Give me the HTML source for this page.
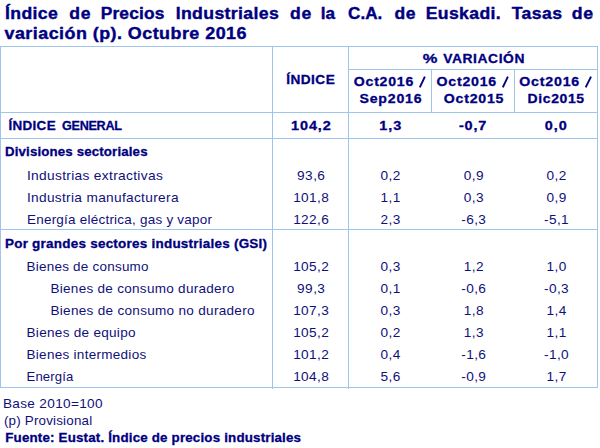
<!DOCTYPE html>
<html><head><meta charset="utf-8"><style>
html,body{margin:0;padding:0;background:#fff;width:600px;height:448px;overflow:hidden}
svg{display:block}
text{font-family:"Liberation Sans",sans-serif;fill:#000080}
.t{stroke:#000080;stroke-width:0.4px}
.b{stroke:#000080;stroke-width:0.3px}
.n{fill:#10107a}
</style></head><body>
<svg width="600" height="448" viewBox="0 0 600 448">
<g fill="#a0c5ec">
<rect x="0" y="46" width="598" height="1"/>
<rect x="348" y="69" width="250" height="1"/>
<rect x="0" y="112" width="598" height="1"/>
<rect x="0" y="138" width="598" height="1"/>
<rect x="0" y="229" width="598" height="1"/>
<rect x="0" y="387" width="598" height="1"/>
<rect x="0" y="46" width="1" height="342"/>
<rect x="272" y="46" width="1" height="343"/>
<rect x="348" y="46" width="1" height="343"/>
<rect x="431" y="69" width="1" height="44"/>
<rect x="514" y="69" width="1" height="44"/>
<rect x="597" y="46" width="1" height="342"/>
</g>
<g>
<text class="t" transform="translate(5.00,19) scale(1.0373,1)" font-size="17" font-weight="bold" textLength="50.87" lengthAdjust="spacing">Índice</text>
<text class="t" transform="translate(69.30,19) scale(1.0339,1)" font-size="17" font-weight="bold" textLength="20.48" lengthAdjust="spacing">de</text>
<text class="t" transform="translate(100.68,19) scale(1.0194,1)" font-size="17" font-weight="bold" textLength="62.57" lengthAdjust="spacing">Precios</text>
<text class="t" transform="translate(175.66,19) scale(1.0406,1)" font-size="17" font-weight="bold" textLength="99.09" lengthAdjust="spacing">Industriales</text>
<text class="t" transform="translate(290.00,19) scale(1.0339,1)" font-size="17" font-weight="bold" textLength="20.48" lengthAdjust="spacing">de</text>
<text class="t" transform="translate(320.69,19) scale(1.0101,1)" font-size="17" font-weight="bold" textLength="14.31" lengthAdjust="spacing">la</text>
<text class="t" transform="translate(348.00,19) scale(1.0049,1)" font-size="17" font-weight="bold" textLength="34.16" lengthAdjust="spacing">C.A.</text>
<text class="t" transform="translate(394.40,19) scale(1.0314,1)" font-size="17" font-weight="bold" textLength="20.43" lengthAdjust="spacing">de</text>
<text class="t" transform="translate(425.66,19) scale(1.0374,1)" font-size="17" font-weight="bold" textLength="72.38" lengthAdjust="spacing">Euskadi.</text>
<text class="t" transform="translate(511.70,19) scale(1.0378,1)" font-size="17" font-weight="bold" textLength="48.63" lengthAdjust="spacing">Tasas</text>
<text class="t" transform="translate(571.70,19) scale(1.0417,1)" font-size="17" font-weight="bold" textLength="20.61" lengthAdjust="spacing">de</text>
<text class="t" transform="translate(4.50,39) scale(1.0544,1)" font-size="17" font-weight="bold" textLength="229.49" lengthAdjust="spacing">variación (p). Octubre 2016</text>
<text class="b" transform="translate(286.20,84) scale(1.0508,1)" font-size="13" font-weight="bold" textLength="46.21" lengthAdjust="spacing">ÍNDICE</text>
<text class="b" transform="translate(422.80,63) scale(1.2667,1)" font-size="13" font-weight="bold" textLength="11.56" lengthAdjust="spacing">%</text>
<text class="b" transform="translate(443.20,63) scale(1.0643,1)" font-size="13" font-weight="bold" textLength="76.31" lengthAdjust="spacing">VARIACIÓN</text>
<text class="b" transform="translate(353.80,86) scale(1.0888,1)" font-size="13" font-weight="bold" textLength="54.70" lengthAdjust="spacing">Oct2016</text>
<text class="b" transform="translate(359.50,103) scale(1.0882,1)" font-size="13" font-weight="bold" textLength="57.02" lengthAdjust="spacing">Sep2016</text>
<text class="b" transform="translate(436.50,86) scale(1.0907,1)" font-size="13" font-weight="bold" textLength="54.78" lengthAdjust="spacing">Oct2016</text>
<text class="b" transform="translate(443.80,103) scale(1.0897,1)" font-size="13" font-weight="bold" textLength="54.74" lengthAdjust="spacing">Oct2015</text>
<text class="b" transform="translate(519.25,86) scale(1.0932,1)" font-size="13" font-weight="bold" textLength="54.89" lengthAdjust="spacing">Oct2016</text>
<text class="b" transform="translate(527.60,103) scale(1.0744,1)" font-size="13" font-weight="bold" textLength="52.54" lengthAdjust="spacing">Dic2015</text>
<text class="b" transform="translate(62.00,130) scale(0.9716,1)" font-size="13" font-weight="bold" textLength="61.70" lengthAdjust="spacing">GENERAL</text>
<text class="b" transform="translate(8.40,130) scale(1.0362,1)" font-size="13" font-weight="bold" textLength="45.61" lengthAdjust="spacing">ÍNDICE</text>
<text class="b" transform="translate(5.00,156) scale(1.0219,1)" font-size="13" font-weight="bold" textLength="139.49" lengthAdjust="spacing">Divisiones sectoriales</text>
<text class="n" transform="translate(26.94,180) scale(1.0563,1)" font-size="13" textLength="128.59" lengthAdjust="spacing">Industrias extractivas</text>
<text class="n" transform="translate(26.95,202) scale(1.0519,1)" font-size="13" textLength="144.06" lengthAdjust="spacing">Industria manufacturera</text>
<text class="n" transform="translate(26.96,224) scale(1.0380,1)" font-size="13" textLength="178.26" lengthAdjust="spacing">Energía eléctrica, gas y vapor</text>
<text class="b" transform="translate(5.00,248) scale(1.0366,1)" font-size="13" font-weight="bold" textLength="252.79" lengthAdjust="spacing">Por grandes sectores industriales (GSI)</text>
<text class="n" transform="translate(26.57,271) scale(1.0343,1)" font-size="13" textLength="117.93" lengthAdjust="spacing">Bienes de consumo</text>
<text class="n" transform="translate(50.46,293) scale(1.0412,1)" font-size="13" textLength="176.51" lengthAdjust="spacing">Bienes de consumo duradero</text>
<text class="n" transform="translate(50.46,315) scale(1.0432,1)" font-size="13" textLength="195.63" lengthAdjust="spacing">Bienes de consumo no duradero</text>
<text class="n" transform="translate(26.56,337) scale(1.0426,1)" font-size="13" textLength="104.53" lengthAdjust="spacing">Bienes de equipo</text>
<text class="n" transform="translate(26.56,359) scale(1.0411,1)" font-size="13" textLength="114.90" lengthAdjust="spacing">Bienes intermedios</text>
<text class="n" transform="translate(26.59,381) scale(1.0121,1)" font-size="13" textLength="46.07" lengthAdjust="spacing">Energía</text>
<text class="n" transform="translate(2.96,408) scale(1.0448,1)" font-size="13" textLength="95.31" lengthAdjust="spacing">Base 2010=100</text>
<text class="n" transform="translate(3.90,425) scale(1.0313,1)" font-size="13" textLength="85.61" lengthAdjust="spacing">(p) Provisional</text>
<text class="b" transform="translate(5.30,442) scale(1.0276,1)" font-size="13" font-weight="bold" textLength="287.80" lengthAdjust="spacing">Fuente: Eustat. Índice de precios industriales</text>
<text class="b" transform="translate(291.10,130) scale(1.1100,1)" font-size="13" font-weight="bold" textLength="35.73" lengthAdjust="spacing">104,2</text>
<text class="b" transform="translate(379.37,130) scale(1.1100,1)" font-size="13" font-weight="bold" textLength="19.84" lengthAdjust="spacing">1,3</text>
<text class="b" transform="translate(458.98,130) scale(1.1100,1)" font-size="13" font-weight="bold" textLength="24.60" lengthAdjust="spacing">-0,7</text>
<text class="b" transform="translate(544.82,130) scale(1.1100,1)" font-size="13" font-weight="bold" textLength="19.84" lengthAdjust="spacing">0,0</text>
<text class="n" transform="translate(297.11,180) scale(1.0500,1)" font-size="13" textLength="26.50" lengthAdjust="spacing">93,6</text>
<text class="n" transform="translate(380.39,180) scale(1.0500,1)" font-size="13" textLength="18.92" lengthAdjust="spacing">0,2</text>
<text class="n" transform="translate(463.69,180) scale(1.0500,1)" font-size="13" textLength="18.92" lengthAdjust="spacing">0,9</text>
<text class="n" transform="translate(546.39,180) scale(1.0500,1)" font-size="13" textLength="18.92" lengthAdjust="spacing">0,2</text>
<text class="n" transform="translate(293.13,202) scale(1.0500,1)" font-size="13" textLength="34.07" lengthAdjust="spacing">101,8</text>
<text class="n" transform="translate(380.39,202) scale(1.0500,1)" font-size="13" textLength="18.92" lengthAdjust="spacing">1,1</text>
<text class="n" transform="translate(463.69,202) scale(1.0500,1)" font-size="13" textLength="18.92" lengthAdjust="spacing">0,3</text>
<text class="n" transform="translate(546.39,202) scale(1.0500,1)" font-size="13" textLength="18.92" lengthAdjust="spacing">0,9</text>
<text class="n" transform="translate(293.13,224) scale(1.0500,1)" font-size="13" textLength="34.07" lengthAdjust="spacing">122,6</text>
<text class="n" transform="translate(380.39,224) scale(1.0500,1)" font-size="13" textLength="18.92" lengthAdjust="spacing">2,3</text>
<text class="n" transform="translate(461.31,224) scale(1.0500,1)" font-size="13" textLength="23.46" lengthAdjust="spacing">-6,3</text>
<text class="n" transform="translate(544.01,224) scale(1.0500,1)" font-size="13" textLength="23.46" lengthAdjust="spacing">-5,1</text>
<text class="n" transform="translate(293.13,271) scale(1.0500,1)" font-size="13" textLength="34.07" lengthAdjust="spacing">105,2</text>
<text class="n" transform="translate(380.39,271) scale(1.0500,1)" font-size="13" textLength="18.92" lengthAdjust="spacing">0,3</text>
<text class="n" transform="translate(463.69,271) scale(1.0500,1)" font-size="13" textLength="18.92" lengthAdjust="spacing">1,2</text>
<text class="n" transform="translate(546.39,271) scale(1.0500,1)" font-size="13" textLength="18.92" lengthAdjust="spacing">1,0</text>
<text class="n" transform="translate(297.11,293) scale(1.0500,1)" font-size="13" textLength="26.50" lengthAdjust="spacing">99,3</text>
<text class="n" transform="translate(380.39,293) scale(1.0500,1)" font-size="13" textLength="18.92" lengthAdjust="spacing">0,1</text>
<text class="n" transform="translate(461.31,293) scale(1.0500,1)" font-size="13" textLength="23.46" lengthAdjust="spacing">-0,6</text>
<text class="n" transform="translate(544.01,293) scale(1.0500,1)" font-size="13" textLength="23.46" lengthAdjust="spacing">-0,3</text>
<text class="n" transform="translate(293.13,315) scale(1.0500,1)" font-size="13" textLength="34.07" lengthAdjust="spacing">107,3</text>
<text class="n" transform="translate(380.39,315) scale(1.0500,1)" font-size="13" textLength="18.92" lengthAdjust="spacing">0,3</text>
<text class="n" transform="translate(463.69,315) scale(1.0500,1)" font-size="13" textLength="18.92" lengthAdjust="spacing">1,8</text>
<text class="n" transform="translate(546.39,315) scale(1.0500,1)" font-size="13" textLength="18.92" lengthAdjust="spacing">1,4</text>
<text class="n" transform="translate(293.13,337) scale(1.0500,1)" font-size="13" textLength="34.07" lengthAdjust="spacing">105,2</text>
<text class="n" transform="translate(380.39,337) scale(1.0500,1)" font-size="13" textLength="18.92" lengthAdjust="spacing">0,2</text>
<text class="n" transform="translate(463.69,337) scale(1.0500,1)" font-size="13" textLength="18.92" lengthAdjust="spacing">1,3</text>
<text class="n" transform="translate(546.39,337) scale(1.0500,1)" font-size="13" textLength="18.92" lengthAdjust="spacing">1,1</text>
<text class="n" transform="translate(293.13,359) scale(1.0500,1)" font-size="13" textLength="34.07" lengthAdjust="spacing">101,2</text>
<text class="n" transform="translate(380.39,359) scale(1.0500,1)" font-size="13" textLength="18.92" lengthAdjust="spacing">0,4</text>
<text class="n" transform="translate(461.31,359) scale(1.0500,1)" font-size="13" textLength="23.46" lengthAdjust="spacing">-1,6</text>
<text class="n" transform="translate(544.01,359) scale(1.0500,1)" font-size="13" textLength="23.46" lengthAdjust="spacing">-1,0</text>
<text class="n" transform="translate(293.13,381) scale(1.0500,1)" font-size="13" textLength="34.07" lengthAdjust="spacing">104,8</text>
<text class="n" transform="translate(380.39,381) scale(1.0500,1)" font-size="13" textLength="18.92" lengthAdjust="spacing">5,6</text>
<text class="n" transform="translate(461.31,381) scale(1.0500,1)" font-size="13" textLength="23.46" lengthAdjust="spacing">-0,9</text>
<text class="n" transform="translate(546.39,381) scale(1.0500,1)" font-size="13" textLength="18.92" lengthAdjust="spacing">1,7</text>
<line x1="419.80" y1="87.3" x2="424.90" y2="76.7" stroke="#000080" stroke-width="1.9"/>
<line x1="502.80" y1="87.3" x2="507.90" y2="76.7" stroke="#000080" stroke-width="1.9"/>
<line x1="585.70" y1="87.3" x2="591.00" y2="76.7" stroke="#000080" stroke-width="1.9"/>
</g>
</svg>
</body></html>
